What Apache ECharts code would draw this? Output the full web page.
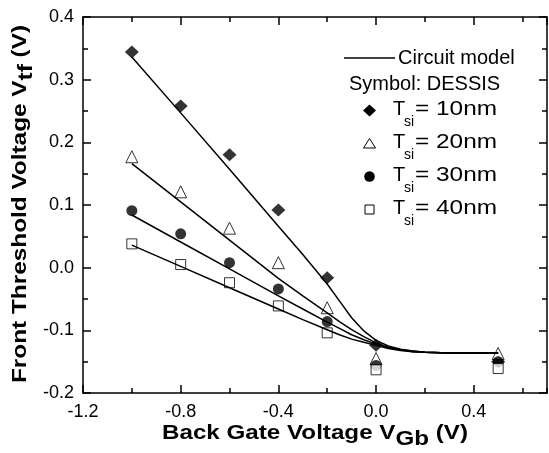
<!DOCTYPE html>
<html><head><meta charset="utf-8">
<script src="https://cdn.jsdelivr.net/npm/echarts@6/dist/echarts.min.js"></script>
<style>html,body{margin:0;padding:0;background:#fff}#c{width:549px;height:453px}</style>
</head><body><div id="c"></div>
<script>
// ---- data ----
const vgbData = [-1.0, -0.8, -0.6, -0.4, -0.2, 0.0, 0.5];
const tsi10 = [0.344, 0.258, 0.180, 0.092, -0.016, -0.124, -0.150];
const tsi20 = [0.177, 0.121, 0.063, 0.008, -0.064, -0.145, -0.137];
const tsi30 = [0.091, 0.054, 0.008, -0.034, -0.086, -0.156, -0.150];
const tsi40 = [0.038, 0.005, -0.024, -0.061, -0.104, -0.163, -0.161];

const vgbModel = [-1.0, -0.8, -0.6, -0.4, -0.3, -0.2, -0.15, -0.1, -0.05, 0.0, 0.05, 0.1, 0.15, 0.2, 0.3, 0.5];
const model10 = [0.336, 0.247, 0.157, 0.066, 0.021, -0.026, -0.053, -0.080, -0.101, -0.116, -0.125, -0.130, -0.133, -0.135, -0.136, -0.136];
const model20 = [0.166, 0.105, 0.044, -0.017, -0.045, -0.072, -0.086, -0.099, -0.110, -0.120, -0.127, -0.131, -0.133, -0.135, -0.136, -0.136];
const model30 = [0.084, 0.041, -0.002, -0.045, -0.066, -0.087, -0.097, -0.107, -0.115, -0.122, -0.128, -0.131, -0.134, -0.135, -0.136, -0.136];
const model40 = [0.036, 0.002, -0.032, -0.066, -0.083, -0.099, -0.107, -0.114, -0.119, -0.124, -0.129, -0.132, -0.134, -0.135, -0.136, -0.136];

const legendLabels = ['= 10nm', '= 20nm', '= 30nm', '= 40nm'];
const xTitle = ['Back Gate Voltage V', 'Gb', ' (V)'];
const yTitle = ['Front Threshold Voltage V', 'tf', ' (V)'];

// ---- helpers ----
const FF = '"Liberation Sans", Arial, Helvetica, sans-serif';
const mctx = document.createElement('canvas').getContext('2d');
function tw(str, font) { mctx.font = font; return mctx.measureText(str).width; }
function zip(xs, ys) { return xs.map((x, i) => [x, ys[i]]); }
function txt(str, x, y, font, extra) {
  return Object.assign({
    type: 'text', x: x, y: y,
    style: { text: str, font: font, fill: '#000', textAlign: 'left', align: 'left',
             textVerticalAlign: 'middle', verticalAlign: 'middle' }
  }, extra || {});
}

const chart = echarts.init(document.getElementById('c'), null, { renderer: 'canvas' });

const axisLine = { onZero: false, lineStyle: { color: '#000', width: 1.5 } };
const labelStyle = { fontSize: 18, fontFamily: FF, color: '#000' };

const xMajor = (pos, showLabel) => ({
  type: 'value', position: pos, min: -1.2, max: 0.7, interval: 0.4,
  axisLine: axisLine,
  axisTick: { inside: true, length: 8, lineStyle: { color: '#000', width: 1.5 } },
  axisLabel: Object.assign({ show: showLabel, margin: 10, showMaxLabel: false,
    formatter: v => Number(v).toFixed(1) }, labelStyle),
  splitLine: { show: false }
});
const xMinor = (pos) => ({
  type: 'value', position: pos, min: -1.2, max: 0.7, interval: 0.2,
  axisLine: { show: false, onZero: false },
  axisTick: { inside: true, length: 5, lineStyle: { color: '#000', width: 1.5 } },
  axisLabel: { show: false },
  splitLine: { show: false }
});
const yAx = (pos, showLabel) => ({
  type: 'value', position: pos, min: -0.2, max: 0.4, interval: 0.1,
  axisLine: axisLine,
  axisTick: { inside: true, length: 8, lineStyle: { color: '#000', width: 1.5 } },
  minorTick: { show: true, splitNumber: 2, length: 5, lineStyle: { color: '#000', width: 1.5 } },
  axisLabel: Object.assign({ show: showLabel, margin: 9,
    formatter: v => Number(v).toFixed(1) }, labelStyle),
  splitLine: { show: false }
});

const hollow = { color: '#fff', borderColor: '#000', borderWidth: 1 };
const solid = { color: '#000', borderColor: '#000', borderWidth: 0 };

const series = [
  { type: 'scatter', data: zip(vgbData, tsi10), symbol: 'diamond', symbolSize: [14, 13], itemStyle: solid },
  { type: 'scatter', data: zip(vgbData, tsi20), symbol: 'triangle', symbolSize: 12, itemStyle: hollow },
  { type: 'scatter', data: zip(vgbData, tsi30), symbol: 'circle', symbolSize: 11, itemStyle: solid },
  { type: 'scatter', data: zip(vgbData, tsi40), symbol: 'rect', symbolSize: 10, itemStyle: hollow }
];
[model10, model20, model30, model40].forEach(m => series.push({
  type: 'line', data: zip(vgbModel, m), showSymbol: false, symbol: 'none',
  smooth: false, z: 3,
  lineStyle: { color: '#000', width: 1.5 }
}));

// ---- titles & legend as graphic text ----
const boldF = 'bold 20px ' + FF;
function titleGroup(parts, cx, cy, target, rotation) {
  const w = parts.map(p => tw(p, boldF));
  const total = w[0] + w[1] + w[2];
  const s = target / total;
  const x0 = -total / 2;
  return {
    type: 'group', x: cx, y: cy, rotation: rotation, scaleX: s,
    children: [
      txt(parts[0], x0, 0, boldF),
      txt(parts[1], x0 + w[0], 6, boldF),
      txt(parts[2], x0 + w[0] + w[1], 0, boldF)
    ]
  };
}

const legF = '20px ' + FF;
const subF = '14px ' + FF;
const rows = [109.5, 142.5, 175.5, 208.5];
const mx = 369.5;
const graphic = [
  titleGroup(xTitle, 315, 433, 306, 0),
  titleGroup(yTitle, 20.5, 204, 358, Math.PI / 2),
  { type: 'line', shape: { x1: 344, y1: 58, x2: 395, y2: 58 }, style: { stroke: '#000', lineWidth: 1.5 } },
  txt('Circuit model', 398, 58, legF),
  txt('Symbol: DESSIS', 349, 84, legF),
  { type: 'polygon', shape: { points: [[mx, 104.5], [mx + 6.5, 110.5], [mx, 116.5], [mx - 6.5, 110.5]] }, style: { fill: '#000' } },
  { type: 'polygon', shape: { points: [[mx, 138.5], [mx + 6, 148], [mx - 6, 148]] }, style: { fill: '#fff', stroke: '#000', lineWidth: 1 } },
  { type: 'circle', shape: { cx: mx, cy: 176.5, r: 5.3 }, style: { fill: '#000' } },
  { type: 'rect', shape: { x: mx - 4.5, y: 205, width: 9, height: 9 }, style: { fill: '#fff', stroke: '#000', lineWidth: 1 } }
];
rows.forEach((ry, i) => {
  graphic.push(txt('T', 393, ry, legF));
  graphic.push(txt('si', 404, ry + 13, subF));
  const w = tw(legendLabels[i], legF);
  graphic.push(txt(legendLabels[i], 415, ry, legF, { scaleX: 82 / w }));
});

chart.setOption({
  animation: false,
  backgroundColor: '#fff',
  grid: { left: 83, right: 2, top: 17, bottom: 60, containLabel: false },
  xAxis: [xMajor('bottom', true), xMinor('bottom'), xMajor('top', false), xMinor('top')],
  yAxis: [yAx('left', true), yAx('right', false)],
  series: series,
  graphic: graphic
});
</script>
</body></html>
